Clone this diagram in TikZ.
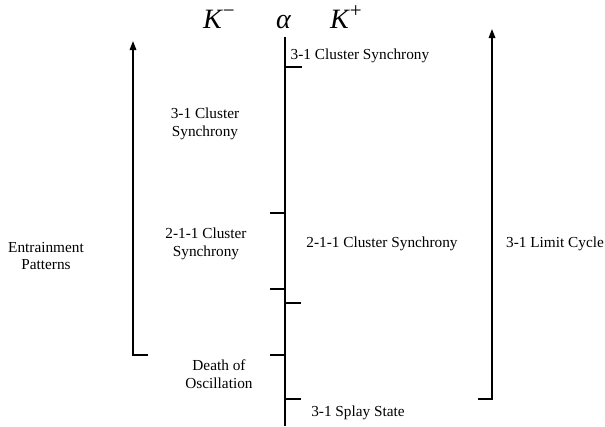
\documentclass[tikz,border=0pt]{standalone}
\usepackage{fontspec}
\setmainfont{Liberation Serif}
\usetikzlibrary{arrows.meta}
\newcommand{\supsign}[1]{\raisebox{0.36em}{\fontsize{21}{21}\selectfont\upshape #1}}
\begin{document}
\begin{tikzpicture}[x=1pt,y=-1pt,
  axis/.style={line width=1.6pt},
  lbl/.style={font=\fontsize{15.3}{17.5}\selectfont,align=center,inner sep=0pt},
  big/.style={font=\fontsize{28}{30}\selectfont\itshape,inner sep=0pt,anchor=base west},
  arr/.style={line width=1.6pt,-{Triangle[length=9pt,width=6.5pt]}}]
\useasboundingbox (0,0) rectangle (605,426);
% header
\node[big] (km) at (203,28) {K\kern1pt\supsign{−}};
\node[big] (al) at (276,28) {α};
\node[big] (kp) at (330,28) {K\kern1pt\supsign{+}};
% central axis
\coordinate (ctop) at (285,37);
\coordinate (cbot) at (285,426);
\draw[axis] (ctop) -- (cbot);
% ticks
\coordinate (t1a) at (285,67);  \coordinate (t1b) at (302,67);
\coordinate (t2a) at (270,213); \coordinate (t2b) at (285,213);
\coordinate (t3a) at (270,289); \coordinate (t3b) at (285,289);
\coordinate (t4a) at (285,303); \coordinate (t4b) at (301,303);
\coordinate (t5a) at (270,355); \coordinate (t5b) at (285,355);
\coordinate (t6a) at (285,399); \coordinate (t6b) at (301,399);
\foreach \a/\b in {t1a/t1b,t2a/t2b,t3a/t3b,t4a/t4b,t5a/t5b,t6a/t6b}
  \draw[axis] (\a) -- (\b);
% left arrow
\coordinate (lb) at (148,355);
\coordinate (lc) at (133,355);
\coordinate (lt) at (133,41);
\draw[arr] (lb) -- (lc) -- (lt);
% right arrow
\coordinate (rb) at (478,399);
\coordinate (rc) at (492,399);
\coordinate (rt) at (492,29);
\draw[arr] (rb) -- (rc) -- (rt);
% labels
\node[lbl] (a1) at (360,56) {3-1 Cluster Synchrony};
\node[lbl] (a2) at (205,124) {3-1 Cluster\\Synchrony};
\node[lbl] (ep) at (46,256) {Entrainment\\Patterns};
\node[lbl] (a3) at (206,244) {2-1-1 Cluster\\Synchrony};
\node[lbl] (a4) at (382,244) {2-1-1 Cluster Synchrony};
\node[lbl] (lc1) at (555,244) {3-1 Limit Cycle};
\node[lbl] (dos) at (219,374) {Death of\\Oscillation};
\node[lbl] (ss) at (358,413) {3-1 Splay State};
\end{tikzpicture}
\end{document}
